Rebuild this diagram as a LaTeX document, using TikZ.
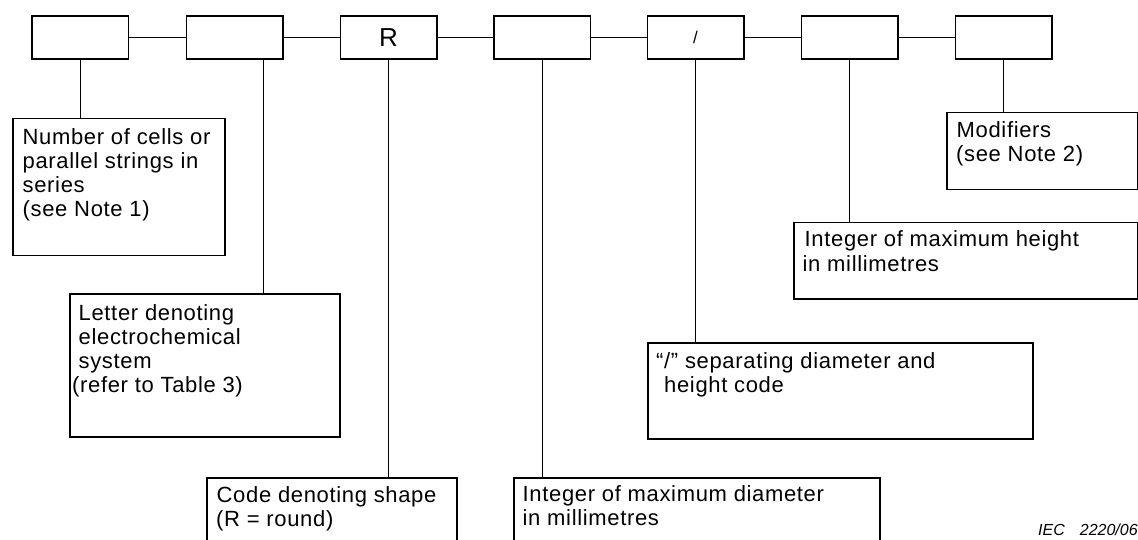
\documentclass[tikz,border=0pt]{standalone}
\usepackage{fontspec}
\setmainfont{Liberation Sans}[LetterSpace=3]
\newfontfamily\plainsans{Liberation Sans}
\begin{document}
\begin{tikzpicture}[x=1pt,y=-1pt,
  codebox/.style={draw,line width=1.5pt,rectangle,minimum width=96.5pt,minimum height=43pt,inner sep=0pt},
  notebox/.style={draw,line width=1.5pt,rectangle,anchor=north west,inner sep=0pt},
  link/.style={line width=0.9pt},
  txt/.style={anchor=base west,inner sep=0pt,font=\fontsize{22}{24}\selectfont}
]
\useasboundingbox (0,0) rectangle (1138,540);
\clip (0,0) rectangle (1138,540);

% code positions along the top row
\node[codebox] (t1) at (80,37.5) {};
\node[codebox] (t2) at (234.5,37.5) {};
\node[codebox,font=\plainsans\fontsize{26}{28}\selectfont] (t3) at (388.5,37.5) {R};
\node[codebox] (t4) at (542,37.5) {};
\node[codebox,font=\plainsans\fontsize{17}{20}\selectfont] (t5) at (695.5,37.5) {/};
\node[codebox] (t6) at (849.5,37.5) {};
\node[codebox] (t7) at (1003.5,37.5) {};

\draw[link] (t1) -- (t2);
\draw[link] (t2) -- (t3);
\draw[link] (t3) -- (t4);
\draw[link] (t4) -- (t5);
\draw[link] (t5) -- (t6);
\draw[link] (t6) -- (t7);

% explanatory boxes
\node[notebox,minimum width=212pt,minimum height=137pt] (na) at (12,118) {};
\node[notebox,minimum width=270pt,minimum height=143pt] (nb) at (69,293) {};
\node[notebox,minimum width=250pt,minimum height=90pt] (nc) at (206,477) {};
\node[notebox,minimum width=366pt,minimum height=90pt] (nd) at (513,477) {};
\node[notebox,minimum width=385pt,minimum height=96pt] (ns) at (647,342) {};
\node[notebox,minimum width=344pt,minimum height=76pt] (ne) at (793,222) {};
\node[notebox,minimum width=191pt,minimum height=77pt] (nf) at (946,112) {};

% leaders from each code position down to its explanation
\draw[link] (t1.south) -- (t1.south |- na.north);
\draw[link] ([xshift=28.5pt]t2.south) -- ([xshift=28.5pt]t2.south |- nb.north);
\draw[link] (t3.south) -- (t3.south |- nc.north);
\draw[link] (t4.south) -- (t4.south |- nd.north);
\draw[link] (t5.south) -- (t5.south |- ns.north);
\draw[link] (t6.south) -- (t6.south |- ne.north);
\draw[link] (t7.south) -- (t7.south |- nf.north);

% texts
\node[txt] (a1) at (22.5,145) {Number of cells or};
\node[txt] (a2) at (22.5,169) {parallel strings in};
\node[txt] (a3) at (22.5,193) {series};
\node[txt] (a4) at (22.5,217) {(see Note 1)};

\node[txt] (b1) at (78.5,320) {Letter denoting};
\node[txt] (b2) at (78.5,344) {electrochemical};
\node[txt] (b3) at (78.5,368) {system};
\node[txt] (b4) at (72,392) {(refer to Table 3)};

\node[txt] (c1) at (216.5,502) {Code denoting shape};
\node[txt] (c2) at (216,526) {(R = round)};

\node[txt] (d1) at (522.5,501) {Integer of maximum diameter};
\node[txt] (d2) at (522.5,525) {in millimetres};

\node[txt] (s1) at (656,368) {“/” separating diameter and};
\node[txt] (s2) at (664,392) {height code};

\node[txt] (e1) at (804.5,247) {Integer of maximum height};
\node[txt] (e2) at (802.5,271) {in millimetres};

\node[txt] (f1) at (956.5,138) {Modifiers};
\node[txt] (f2) at (956,162) {(see Note 2)};

\node[anchor=base west,inner sep=0pt,font=\plainsans\itshape\fontsize{16}{18}\selectfont] (iec) at (1038,535) {IEC\hspace{15pt}2220/06};
\end{tikzpicture}
\end{document}
